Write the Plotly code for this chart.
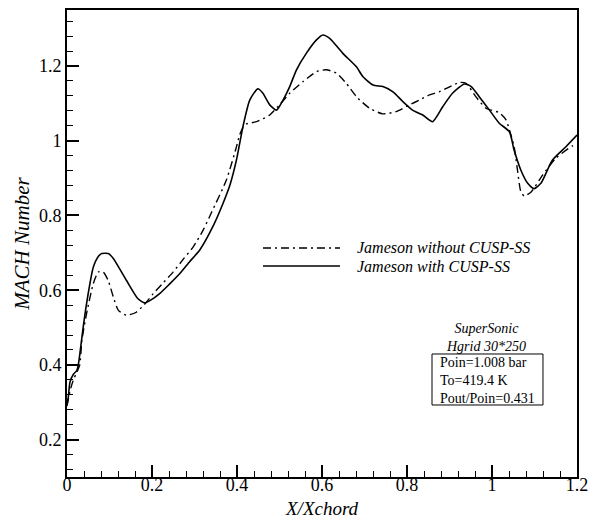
import plotly.graph_objects as go

# Jameson with CUSP-SS (solid)
x_with = [0.000, 0.003, 0.007, 0.015, 0.023, 0.027, 0.038, 0.046, 0.062, 0.075, 0.082, 0.097,
          0.109, 0.125, 0.140, 0.167, 0.183, 0.195, 0.218, 0.240, 0.265, 0.289, 0.312, 0.344,
          0.367, 0.383, 0.399, 0.414, 0.430, 0.449, 0.461, 0.477, 0.493, 0.504, 0.524, 0.540,
          0.563, 0.587, 0.602, 0.618, 0.649, 0.681, 0.696, 0.720, 0.743, 0.767, 0.790, 0.813,
          0.837, 0.860, 0.884, 0.907, 0.935, 0.951, 0.970, 0.994, 1.017, 1.041, 1.052, 1.068,
          1.084, 1.099, 1.115, 1.142, 1.174, 1.200]
y_with = [0.295, 0.313, 0.354, 0.375, 0.385, 0.403, 0.500, 0.564, 0.662, 0.692, 0.698, 0.698,
          0.685, 0.655, 0.626, 0.577, 0.566, 0.572, 0.591, 0.615, 0.644, 0.677, 0.707, 0.772,
          0.832, 0.880, 0.950, 1.038, 1.109, 1.139, 1.127, 1.096, 1.082, 1.100, 1.145, 1.190,
          1.234, 1.270, 1.283, 1.274, 1.234, 1.198, 1.172, 1.149, 1.145, 1.131, 1.105, 1.082,
          1.069, 1.051, 1.091, 1.127, 1.152, 1.145, 1.118, 1.082, 1.047, 1.024, 0.975, 0.921,
          0.886, 0.872, 0.886, 0.948, 0.984, 1.015]

# Jameson without CUSP-SS (dash-dot)
x_without = [0.000, 0.007, 0.015, 0.023, 0.030, 0.035, 0.046, 0.062, 0.074, 0.085, 0.097, 0.109,
             0.121, 0.140, 0.163, 0.183, 0.203, 0.225, 0.250, 0.275, 0.297, 0.320, 0.340, 0.375,
             0.399, 0.406, 0.414, 0.422, 0.446, 0.477, 0.500, 0.524, 0.555, 0.587, 0.610, 0.634,
             0.657, 0.681, 0.712, 0.743, 0.774, 0.806, 0.829, 0.853, 0.876, 0.923, 0.939, 0.962,
             0.986, 1.017, 1.033, 1.041, 1.052, 1.060, 1.068, 1.076, 1.092, 1.119, 1.150, 1.189,
             1.200]
y_without = [0.290, 0.330, 0.360, 0.380, 0.400, 0.466, 0.537, 0.618, 0.649, 0.649, 0.626, 0.582,
             0.546, 0.533, 0.541, 0.563, 0.591, 0.618, 0.649, 0.685, 0.716, 0.760, 0.808, 0.895,
             0.985, 1.015, 1.035, 1.045, 1.051, 1.069, 1.096, 1.127, 1.158, 1.185, 1.190, 1.181,
             1.154, 1.118, 1.087, 1.072, 1.078, 1.096, 1.109, 1.123, 1.131, 1.156, 1.154, 1.118,
             1.087, 1.075, 1.056, 1.029, 0.984, 0.921, 0.863, 0.852, 0.863, 0.908, 0.953, 0.986,
             0.990]

series_names = ["Jameson without CUSP-SS", "Jameson with CUSP-SS"]
x_title = "X/Xchord"
y_title = "MACH Number"
info_title = ["SuperSonic", "Hgrid 30*250"]
info_lines = ["Poin=1.008 bar", "To=419.4 K", "Pout/Poin=0.431"]

DASHDOT = "8px,4px,2px,4px"
FONT = "Liberation Serif"

fig = go.Figure()
fig.add_trace(go.Scatter(x=x_without, y=y_without, mode="lines", name=series_names[0],
                         line=dict(color="black", width=1.4, dash=DASHDOT, shape="spline", smoothing=0.6)))
fig.add_trace(go.Scatter(x=x_with, y=y_with, mode="lines", name=series_names[1],
                         line=dict(color="black", width=1.6, shape="spline", smoothing=0.6)))

axis_common = dict(showline=True, mirror=True, linecolor="black", linewidth=2,
                   ticks="inside", ticklen=12, tickwidth=2, tickcolor="black",
                   showgrid=False, zeroline=False, automargin=False,
                   tickfont=dict(family=FONT, size=18, color="black"),
                   minor=dict(ticks="inside", ticklen=6, tickwidth=1, tickcolor="black",
                              dtick=0.04, tick0=0, showgrid=False))

fig.update_xaxes(range=[0, 1.2], tickmode="linear", tick0=0, dtick=0.2, ticklabelstandoff=-10,
                 **axis_common)
fig.update_yaxes(range=[0.1, 1.35], tickmode="linear", tick0=0, dtick=0.2,
                 title=dict(text=y_title, font=dict(family=FONT, size=21, color="black", style="italic"),
                            standoff=4),
                 **axis_common)

# X axis title (placed below tick labels)
fig.add_annotation(xref="paper", yref="paper", x=0.5, y=-0.0664, text=x_title, showarrow=False,
                   xanchor="center", yanchor="middle", borderpad=0,
                   font=dict(family=FONT, size=19, color="black", style="italic"))

# Manual legend
leg_rows = [0.4904, 0.4518]
dashes = [DASHDOT, "solid"]
widths = [1.4, 1.6]
for name, yy, d, w in zip(series_names, leg_rows, dashes, widths):
    fig.add_shape(type="line", xref="paper", yref="paper", x0=0.3843, x1=0.5353, y0=yy, y1=yy,
                  line=dict(color="black", width=w, dash=d))
    fig.add_annotation(xref="paper", yref="paper", x=0.5647, y=yy, text=name, showarrow=False,
                       xanchor="left", yanchor="middle",
                       font=dict(family=FONT, size=16, color="black", style="italic"))

# Info block
fig.add_annotation(xref="paper", yref="paper", x=0.8225, y=0.2995, text="<br>".join(info_title),
                   showarrow=False, xanchor="center", yanchor="middle",
                   font=dict(family=FONT, size=14, color="black", style="italic"))
fig.add_shape(type="rect", xref="paper", yref="paper", x0=0.7157, x1=0.9333, y0=0.1542, y1=0.2634,
              line=dict(color="black", width=1), fillcolor="white", layer="below")
fig.add_annotation(xref="paper", yref="paper", x=0.7275, y=0.2077, text="<br>".join(info_lines),
                   showarrow=False, xanchor="left", yanchor="middle", align="left",
                   font=dict(family=FONT, size=14, color="black"))

fig.update_layout(width=589, height=519, margin=dict(l=67, r=12, t=10, b=42),
                  paper_bgcolor="white", plot_bgcolor="white", showlegend=False,
                  font=dict(family=FONT, color="black"))

fig.write_html("out.html")
